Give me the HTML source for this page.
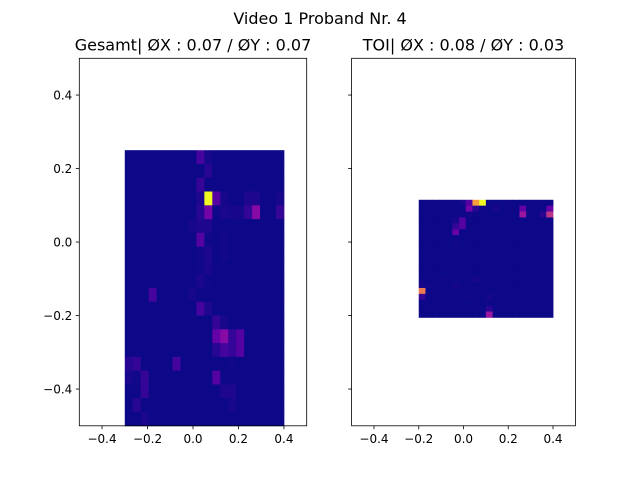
<!DOCTYPE html>
<html><head><meta charset="utf-8"><style>
html,body{margin:0;padding:0;background:#fff;}
svg{display:block;font-family:"DejaVu Sans","Liberation Sans",sans-serif;}
</style></head><body>
<svg id="chart" width="640" height="480" viewBox="0 0 640 480">
<text x="320" y="24" font-size="16" text-anchor="middle">Video 1 Proband Nr. 4</text>
</svg>
<script>
// Figure data
const leftTitle = "Gesamt| ØX : 0.07 / ØY : 0.07";
const rightTitle = "TOI| ØX : 0.08 / ØY : 0.03";
const xTickLabels = [-0.4, -0.2, 0.0, 0.2, 0.4];
const yTickLabels = [0.4, 0.2, 0.0, -0.2, -0.4];
const leftExtent = [-0.3, 0.4, -0.5, 0.25];   // xmin,xmax,ymin,ymax
const rightExtent = [-0.2, 0.4, -0.205, 0.115];
// rows from top to bottom, 20 x 20 normalized counts
const leftValues = [
[0,0,0,0,0,0,0,0,0,.25,.08,0,0,0,0,0,0,0,0,0],
[0,0,0,0,0,0,0,0,0,0,.15,0,0,0,0,0,0,0,0,0],
[0,0,0,0,0,0,0,0,0,.2,0,0,0,0,0,0,0,0,0,0],
[0,0,0,0,0,0,0,0,0,.12,1,.3,.08,0,0,.12,.12,0,0,.08],
[0,0,0,0,0,0,0,0,0,.15,.4,.03,.1,.08,.08,.2,.45,0,0,.2],
[0,0,0,0,0,0,0,0,.08,.12,.12,0,0,0,0,0,0,0,0,0],
[0,0,0,0,0,0,0,0,0,.3,.05,0,.06,0,0,0,0,0,0,0],
[0,0,0,0,0,0,0,0,0,.05,.12,0,.06,0,0,0,0,0,0,0],
[0,0,0,0,0,0,0,0,0,.03,.1,0,0,0,0,0,0,0,0,0],
[0,0,0,0,0,0,0,0,0,.1,.03,0,0,0,0,0,0,0,0,0],
[0,0,0,.25,0,0,0,0,.08,0,0,0,0,0,0,0,0,0,0,0],
[0,0,0,0,0,0,0,0,0,.25,.12,0,0,0,0,0,0,0,0,0],
[0,0,0,0,0,0,0,0,0,0,0,.2,.08,0,0,0,0,0,0,0],
[0,0,0,0,0,0,0,0,0,0,0,.35,.45,.2,.3,0,0,0,0,0],
[0,0,0,0,0,0,0,0,0,0,0,.15,.25,.2,.3,0,0,0,0,0],
[.15,.2,0,0,0,0,.25,0,0,0,0,0,0,.05,0,0,0,0,0,0],
[.1,.05,.2,0,0,0,0,0,0,0,0,.3,0,0,0,0,0,0,0,0],
[0,.03,.2,0,0,0,0,0,0,0,0,0,.12,.12,0,0,0,0,0,0],
[0,.15,0,0,0,0,0,0,0,0,0,0,0,.08,0,0,0,0,0,0],
[0,0,.1,0,0,0,0,0,0,0,0,0,0,0,0,0,0,0,0,0]
];
const rightValues = [
[0,0,0,0,0,0,.08,.3,.85,1,0,0,0,0,0,0,0,0,0,0],
[0,0,0,0,0,0,0,.4,.15,0,0,.08,0,0,0,.35,0,0,0,.35],
[0,0,0,0,0,0,0,.05,0,0,0,0,0,0,0,.5,.05,0,.15,.6],
[0,0,0,0,0,.08,.3,0,0,0,0,0,0,0,0,0,0,0,0,0],
[0,0,0,0,0,.2,.3,0,0,0,0,0,0,0,0,0,0,0,0,0],
[0,0,0,0,0,.35,0,0,0,0,0,0,0,0,0,0,0,0,0,0],
[0,0,0,0,0,0,0,0,0,0,0,0,0,0,0,0,0,0,0,0],
[0,0,0,0,0,.05,0,0,0,0,0,0,0,0,0,0,0,0,0,0],
[0,0,0,0,0,0,0,0,0,0,0,0,0,0,0,0,0,0,0,0],
[0,0,0,0,0,0,0,0,0,0,0,0,0,0,0,0,0,0,0,0],
[0,0,0,0,0,0,0,0,0,0,0,0,0,0,0,0,0,0,0,0],
[0,0,0,0,0,0,0,0,0,0,0,0,0,0,0,0,0,0,0,0],
[0,0,0,0,0,0,0,0,0,0,0,0,0,0,0,0,0,0,0,0],
[0,0,0,.05,0,0,0,0,.08,0,0,0,0,0,0,0,0,0,0,0],
[.08,.05,0,0,0,.08,0,0,0,0,0,0,0,0,0,0,0,0,0,0],
[.78,0,0,0,0,0,0,0,0,0,0,0,0,0,0,0,0,0,0,0],
[.2,0,0,0,0,0,0,.05,0,0,.08,0,0,0,0,0,0,0,0,0],
[0,0,0,0,0,0,0,0,0,0,0,0,0,0,0,0,0,0,0,0],
[0,0,0,0,0,0,0,0,0,0,.15,0,0,0,0,0,0,0,0,0],
[0,0,0,0,0,0,0,0,0,0,.5,0,0,0,0,0,0,0,0,0]
];

const NS = "http://www.w3.org/2000/svg";
const svg = document.getElementById('chart');
const plasma = ["#0d0887","#41049d","#6a00a8","#8f0da4","#b12a90","#cc4778","#e16462","#f2844b","#fca636","#fcce25","#f0f921"];
const gamma = 1.6;
function hex(h){return [1,3,5].map(i=>parseInt(h.substr(i,2),16));}
function cmap(v){
  v=Math.pow(Math.max(0,Math.min(1,v)),gamma);const p=v*10,i=Math.min(9,Math.floor(p)),t=p-i;
  const a=hex(plasma[i]),b=hex(plasma[i+1]);
  return "rgb("+a.map((c,k)=>Math.round(c+(b[k]-c)*t)).join(",")+")";
}
function mk(tag,attrs,parent){const e=document.createElementNS(NS,tag);for(const k in attrs)e.setAttribute(k,attrs[k]);(parent||svg).appendChild(e);return e;}

function panel(name,box,title,extent,values,showYLabels){
  const [L,R,T,B]=box;
  const g=mk('g',{});
  
  
  const sx=v=>L+(v+0.5)/1*(R-L);
  const sy=v=>T+(0.5-v)/1*(B-T);
  const rows=values.length, cols=values[0].length;
  const [x0,x1,y0,y1]=extent;
  const cw=(x1-x0)/cols, ch=(y1-y0)/rows;
  values.forEach((row,r)=>row.forEach((v,c)=>{
    const xa=sx(x0+c*cw), xb=sx(x0+(c+1)*cw);
    const ya=sy(y1-r*ch), yb=sy(y1-(r+1)*ch);
    const rc=mk('rect',{x:xa,y:ya,width:xb-xa+0.4,height:yb-ya+0.4,fill:cmap(v)},g);
    
    
  }));
  const fr=mk('rect',{x:L,y:T,width:R-L,height:B-T,fill:'none',stroke:'#000','stroke-width':0.8},g);
  
  
  xTickLabels.forEach(v=>{
    const x=sx(v);
    mk('line',{x1:x,x2:x,y1:B,y2:B+3.5,stroke:'#000','stroke-width':0.8},g);
    const t=mk('text',{x:x,y:B+17,'font-size':12,'text-anchor':'middle'},g);
    t.textContent=(v<0?'\u2212':'')+Math.abs(v).toFixed(1);
    
    
  });
  yTickLabels.forEach(v=>{
    const y=sy(v);
    mk('line',{x1:L,x2:L-3.5,y1:y,y2:y,stroke:'#000','stroke-width':0.8},g);
    if(showYLabels){
      const t=mk('text',{x:L-7,y:y+4.5,'font-size':12,'text-anchor':'end'},g);
      t.textContent=(v<0?'\u2212':'')+Math.abs(v).toFixed(1);
      
      
    }
  });
  const tt=mk('text',{x:(L+R)/2,y:T-8,'font-size':16,'text-anchor':'middle'},g);
  tt.textContent=title;
  
  
}
panel('left',[79.3,306.7,58.3,425.8],leftTitle,leftExtent,leftValues,true);
panel('right',[351.6,575.4,58.3,425.8],rightTitle,rightExtent,rightValues,false);
</script>
</body></html>
